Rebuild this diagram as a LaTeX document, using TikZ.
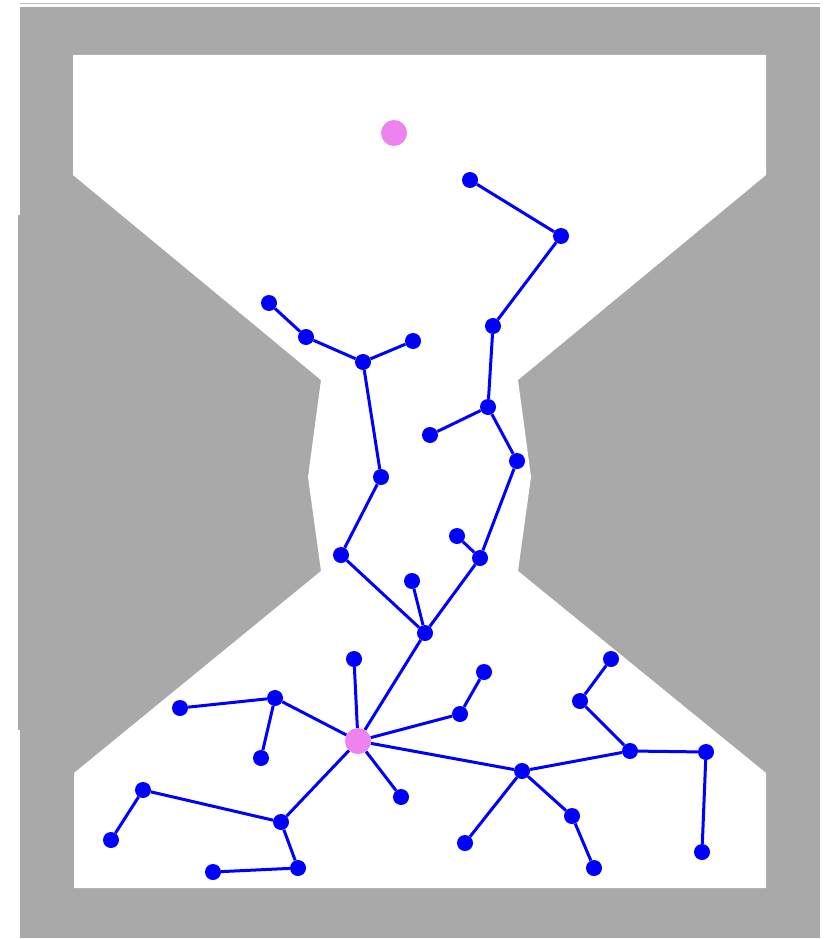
\documentclass[tikz,border=0pt]{standalone}
\usepackage{tikz}
\usetikzlibrary{positioning}
\definecolor{wallgray}{HTML}{A9A9A9}
\definecolor{rootpink}{HTML}{EE82EE}

\begin{document}
\begin{tikzpicture}[
  x=1pt, y=-1pt,
  leaf/.style={circle, fill=blue, draw=none, minimum size=16pt, inner sep=0pt},
  root/.style={circle, fill=rootpink, draw=none, minimum size=26pt, inner sep=0pt},
  branch/.style={line width=3pt, blue}
]
  \useasboundingbox (0,0) rectangle (833,939);
  % walls of the hourglass
  \draw[wallgray!80, line width=1pt] (20,3.5) -- (820,3.5);
  \fill[wallgray] (20,7) rectangle (820,938);
  \fill[wallgray] (18,215) rectangle (20,730);
  \fill[white] (73,55) -- (766,55) -- (766,175) -- (518,380) -- (531,477)
    -- (518,571) -- (766,773) -- (766,888) -- (74,888) -- (74,773)
    -- (321,571) -- (308,477) -- (321,380) -- (73,175) -- cycle;

  \node[root] (top) at (394,133) {};
  \node[root] (hub) at (358,741) {};

  % right chain through the neck
  \node[leaf] (a1) at (470,180) {};
  \node[leaf] (a2) at (561,236) {};
  \node[leaf] (a3) at (493,326) {};
  \node[leaf] (a4) at (488,407) {};
  \node[leaf] (a5) at (430,435) {};
  \node[leaf] (a6) at (517,461) {};
  \node[leaf] (a7) at (480,558) {};
  \node[leaf] (a8) at (457,536) {};
  \node[leaf] (a9) at (425,633) {};
  \node[leaf] (a10) at (412,581) {};
  % left chain through the neck
  \node[leaf] (b1) at (269,303) {};
  \node[leaf] (b2) at (306,337) {};
  \node[leaf] (b3) at (363,362) {};
  \node[leaf] (b4) at (413,341) {};
  \node[leaf] (b5) at (381,477) {};
  \node[leaf] (b6) at (341,555) {};
  % lower chamber, left of hub
  \node[leaf] (d1) at (354,659) {};
  \node[leaf] (d2) at (275,698) {};
  \node[leaf] (d3) at (180,708) {};
  \node[leaf] (d4) at (261,758) {};
  \node[leaf] (d5) at (460,714) {};
  \node[leaf] (d6) at (484,672) {};
  \node[leaf] (d7) at (401,797) {};
  \node[leaf] (d8) at (281,822) {};
  \node[leaf] (d9) at (143,790) {};
  \node[leaf] (d10) at (111,840) {};
  \node[leaf] (d11) at (298,868) {};
  \node[leaf] (d12) at (213,872) {};
  % lower chamber, right of hub
  \node[leaf] (e1) at (522,771) {};
  \node[leaf] (e2) at (630,751) {};
  \node[leaf] (e3) at (580,701) {};
  \node[leaf] (e4) at (611,659) {};
  \node[leaf] (e5) at (706,752) {};
  \node[leaf] (e6) at (702,852) {};
  \node[leaf] (e7) at (465,843) {};
  \node[leaf] (e8) at (572,816) {};
  \node[leaf] (e9) at (594,868) {};

  \draw[branch] (a1) -- (a2) -- (a3) -- (a4) -- (a6) -- (a7) -- (a9) -- (hub);
  \draw[branch] (a4) -- (a5);
  \draw[branch] (a7) -- (a8);
  \draw[branch] (a10) -- (a9);
  \draw[branch] (b1) -- (b2) -- (b3) -- (b5) -- (b6) -- (a9);
  \draw[branch] (b3) -- (b4);
  \draw[branch] (hub) -- (d1);
  \draw[branch] (d3) -- (d2) -- (hub);
  \draw[branch] (d2) -- (d4);
  \draw[branch] (d6) -- (d5) -- (hub);
  \draw[branch] (hub) -- (d7);
  \draw[branch] (hub) -- (d8) -- (d9) -- (d10);
  \draw[branch] (d8) -- (d11) -- (d12);
  \draw[branch] (hub) -- (e1) -- (e2) -- (e3) -- (e4);
  \draw[branch] (e2) -- (e5) -- (e6);
  \draw[branch] (e1) -- (e7);
  \draw[branch] (e1) -- (e8) -- (e9);
\end{tikzpicture}
\end{document}
